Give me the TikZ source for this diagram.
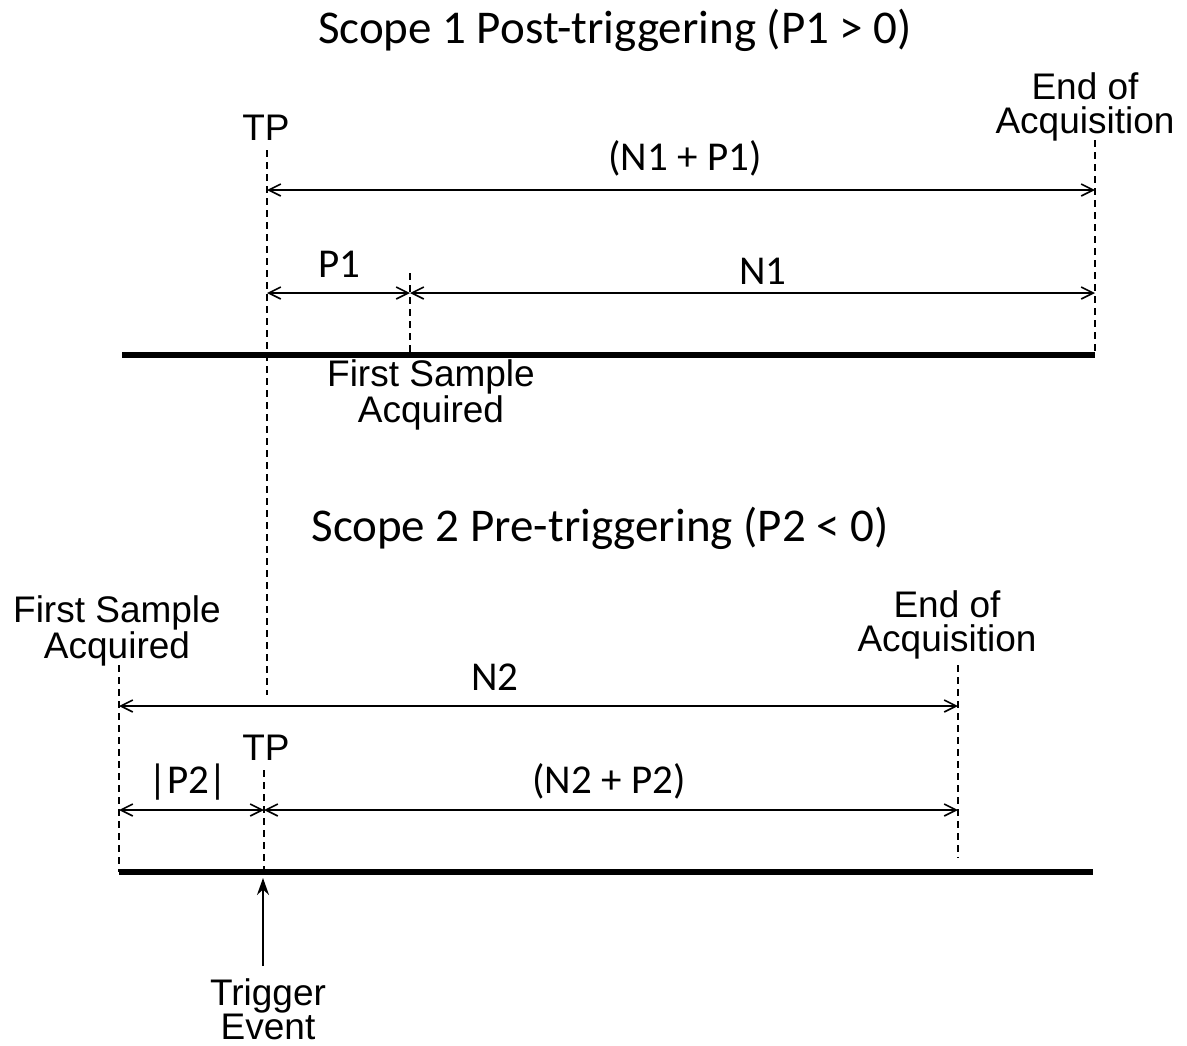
\documentclass[tikz,border=0pt]{standalone}
\usepackage{fontspec}
\setmainfont{Carlito}
\newfontfamily\arialf{Liberation Sans}
\usetikzlibrary{arrows.meta}
\begin{document}
\begin{tikzpicture}[x=1pt,y=-1pt,
  tipb/.tip={Straight Barb[length=12pt,width=12pt,line width=1.6pt]},
  dimline/.style={line width=1.9pt,{tipb}-{tipb}},
  guide/.style={line width=1.9pt,dash pattern=on 7pt off 5pt},
  baseline/.style={line width=5.5pt},
  callab/.style={font=\fontsize{41}{43}\selectfont,inner sep=0pt,anchor=base},
  titlelab/.style={font=\fontsize{47}{50}\selectfont,inner sep=0pt,anchor=base},
  arlab/.style={font=\arialf\fontsize{37}{34}\selectfont,inner sep=0pt,anchor=base,align=center}]
\useasboundingbox[fill=white] (0,0) rectangle (1187,1045);

% ---------- Scope 1 ----------
\node[titlelab] (t1) at (615,43) {Scope 1 Post-triggering (P1 > 0)};
\node[arlab] (tp1lab) at (266,140) {TP};
\node[arlab] (eoa1) at (1085,133) {End of\\Acquisition};
\node[callab] (np1) at (685,170) {(N1 + P1)};
\node[callab] (p1lab) at (339,277) {P1};
\node[callab] (n1lab) at (763,284) {N1};
\node[arlab] (fs1) at (431,422) {First Sample\\Acquired};

\coordinate (tp1top) at (267,150);
\coordinate (tp1bot) at (267,695);
\coordinate (tp1u) at (267,190);
\coordinate (tp1l) at (267,293);
\coordinate (eoa1top) at (1095,140);
\coordinate (eoa1u) at (1095,190);
\coordinate (eoa1l) at (1095,293);
\coordinate (eoa1bot) at (1095,355);
\coordinate (fs1top) at (410,273);
\coordinate (fs1l) at (410,293);
\coordinate (fs1bot) at (410,355);
\coordinate (b1l) at (122,355);

\draw[guide] (tp1top) -- (tp1bot);
\draw[guide] (eoa1top) -- (eoa1bot);
\draw[guide] (fs1top) -- (fs1bot);
\draw[dimline] (tp1u) -- (eoa1u);
\draw[dimline] (tp1l) -- (fs1l);
\draw[dimline] (fs1l) -- (eoa1l);
\draw[baseline] (b1l) -- (eoa1bot);

% ---------- Scope 2 ----------
\node[titlelab] (t2) at (600,541) {Scope 2 Pre-triggering (P2 < 0)};
\node[arlab] (fs2) at (117,658) {First Sample\\Acquired};
\node[arlab] (eoa2) at (947,651) {End of\\Acquisition};
\node[callab] (n2lab) at (495,690) {N2};
\node[arlab] (tp2lab) at (266,760) {TP};
\node[callab] (p2lab) at (188,793) {|P2|};
\node[callab] (np2) at (609,793) {(N2 + P2)};
\node[arlab] (trg) at (268,1039) {Trigger\\Event};

\coordinate (fs2top) at (119,665);
\coordinate (fs2u) at (119,706);
\coordinate (fs2l) at (119,810);
\coordinate (fs2bot) at (119,872);
\coordinate (eoa2top) at (958,665);
\coordinate (eoa2u) at (958,706);
\coordinate (eoa2l) at (958,810);
\coordinate (eoa2bot) at (958,858);
\coordinate (tp2top) at (264,770);
\coordinate (tp2l) at (264,810);
\coordinate (tp2bot) at (264,872);
\coordinate (b2r) at (1093,872);
\coordinate (trgfrom) at (263,966);
\coordinate (trgto) at (263,878);

\draw[guide] (fs2top) -- (fs2bot);
\draw[guide] (eoa2top) -- (eoa2bot);
\draw[guide] (tp2top) -- (tp2bot);
\draw[dimline] (fs2u) -- (eoa2u);
\draw[dimline] (fs2l) -- (tp2l);
\draw[dimline] (tp2l) -- (eoa2l);
\draw[baseline] (fs2bot) -- (b2r);
\draw[line width=1.8pt,-{Stealth[length=17pt,width=12pt]}] (trgfrom) -- (trgto);
\end{tikzpicture}
\end{document}
